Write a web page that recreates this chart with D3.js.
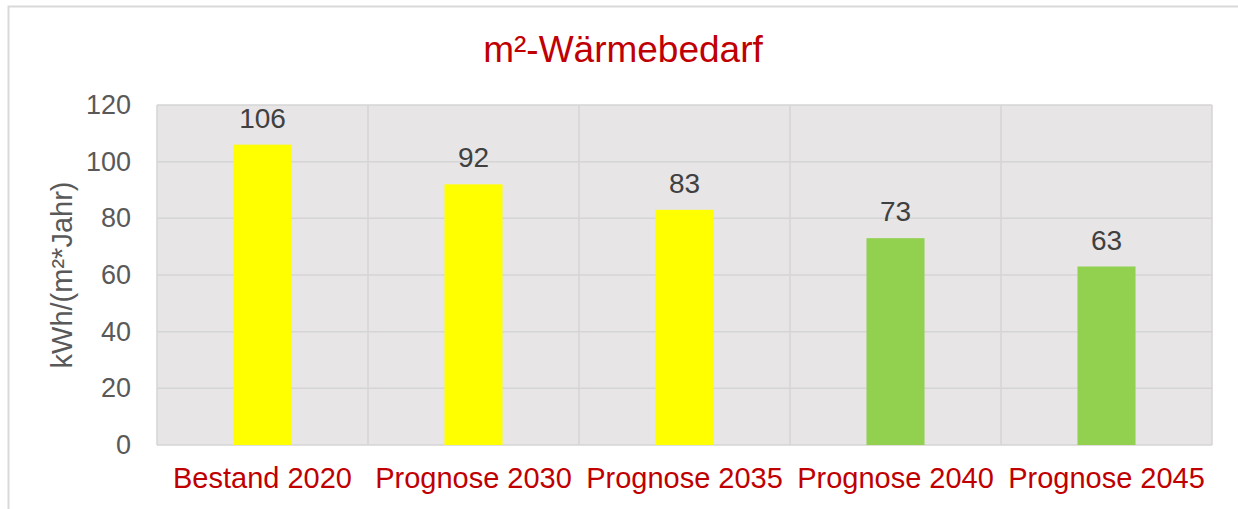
<!DOCTYPE html>
<html>
<head>
<meta charset="utf-8">
<script src="https://cdn.jsdelivr.net/npm/d3@7"></script>
<style>
  html, body { margin: 0; padding: 0; background: #fff; }
  svg { display: block; font-family: "Liberation Sans", Arial, sans-serif; }
</style>
</head>
<body>
<div id="chart"></div>
<script>
// Chart data
const categories = ["Bestand 2020", "Prognose 2030", "Prognose 2035", "Prognose 2040", "Prognose 2045"];
const values = [106, 92, 83, 73, 63];
const barColors = ["#ffff00", "#ffff00", "#ffff00", "#92d050", "#92d050"];
const yTicks = [0, 20, 40, 60, 80, 100, 120];
const title = "m²-Wärmebedarf";
const yLabel = "kWh/(m²*Jahr)";

const width = 1238, height = 509;
const margins = { left: 157, right: 26, top: 105, bottom: 64 };
const innerW = width - margins.left - margins.right;
const innerH = height - margins.top - margins.bottom;

const svg = d3.select("#chart")
  .append("svg")
    .attr("width", width).attr("height", height);

// outer chart border
svg.append("rect")
  .attr("x", 8.5).attr("y", 6.5)
  .attr("width", width + 10).attr("height", height + 10)
  .attr("fill", "none").attr("stroke", "#d9d9d9").attr("stroke-width", 2);

svg.append("text")
  .attr("x", 623).attr("y", 62)
  .attr("text-anchor", "middle")
  .attr("fill", "#c00000")
  .style("font-size", "37px")
  .text(title);

const g = svg.append("g").attr("transform", `translate(${margins.left}, ${margins.top})`);

const x = d3.scaleBand().domain(categories).range([0, innerW]).paddingInner(0.725).paddingOuter(0.3625);
const y = d3.scaleLinear().domain([0, 120]).range([innerH, 0]);

// plot background
g.append("rect").attr("width", innerW).attr("height", innerH).attr("fill", "#e7e5e6");

// horizontal grid
g.append("g").selectAll("line")
  .data(yTicks)
  .enter().append("line")
    .attr("x1", 0).attr("x2", innerW)
    .attr("y1", d => y(d)).attr("y2", d => y(d))
    .attr("stroke", "#d5d5d5").attr("stroke-width", 1.5);

// vertical grid at category boundaries
const step = x.step();
g.append("g").selectAll("line")
  .data(d3.range(categories.length + 1))
  .enter().append("line")
    .attr("x1", i => i * step).attr("x2", i => i * step)
    .attr("y1", 0).attr("y2", innerH)
    .attr("stroke", "#d5d5d5").attr("stroke-width", 1.5);

// bars
g.append("g").selectAll("rect")
  .data(values)
  .enter().append("rect")
    .attr("x", (d, i) => x(categories[i]))
    .attr("y", d => y(d))
    .attr("width", x.bandwidth())
    .attr("height", d => innerH - y(d))
    .attr("fill", (d, i) => barColors[i]);

// value labels
g.append("g").selectAll("text")
  .data(values)
  .enter().append("text")
    .attr("x", (d, i) => x(categories[i]) + x.bandwidth() / 2)
    .attr("y", d => y(d) - 17)
    .attr("text-anchor", "middle")
    .attr("fill", "#404040")
    .style("font-size", "28px")
    .text(d => d);

// y axis
const yAxis = g.append("g")
  .call(d3.axisLeft(y).tickValues(yTicks).tickSize(0).tickPadding(26));
yAxis.select(".domain").remove();
yAxis.selectAll("text").attr("fill", "#595959").style("font-size", "27px").style("font-family", "Liberation Sans, Arial, sans-serif");

// x axis
const xAxis = g.append("g")
  .attr("transform", `translate(0, ${innerH})`)
  .call(d3.axisBottom(x).tickSize(0).tickPadding(22));
xAxis.select(".domain").remove();
xAxis.selectAll("text").attr("fill", "#c00000").style("font-size", "29px").style("font-family", "Liberation Sans, Arial, sans-serif");

// y axis label
svg.append("text")
  .attr("transform", `translate(72, ${margins.top + innerH / 2}) rotate(-90)`)
  .attr("text-anchor", "middle")
  .attr("fill", "#595959")
  .style("font-size", "29px")
  .text(yLabel);
</script>
</body>
</html>
